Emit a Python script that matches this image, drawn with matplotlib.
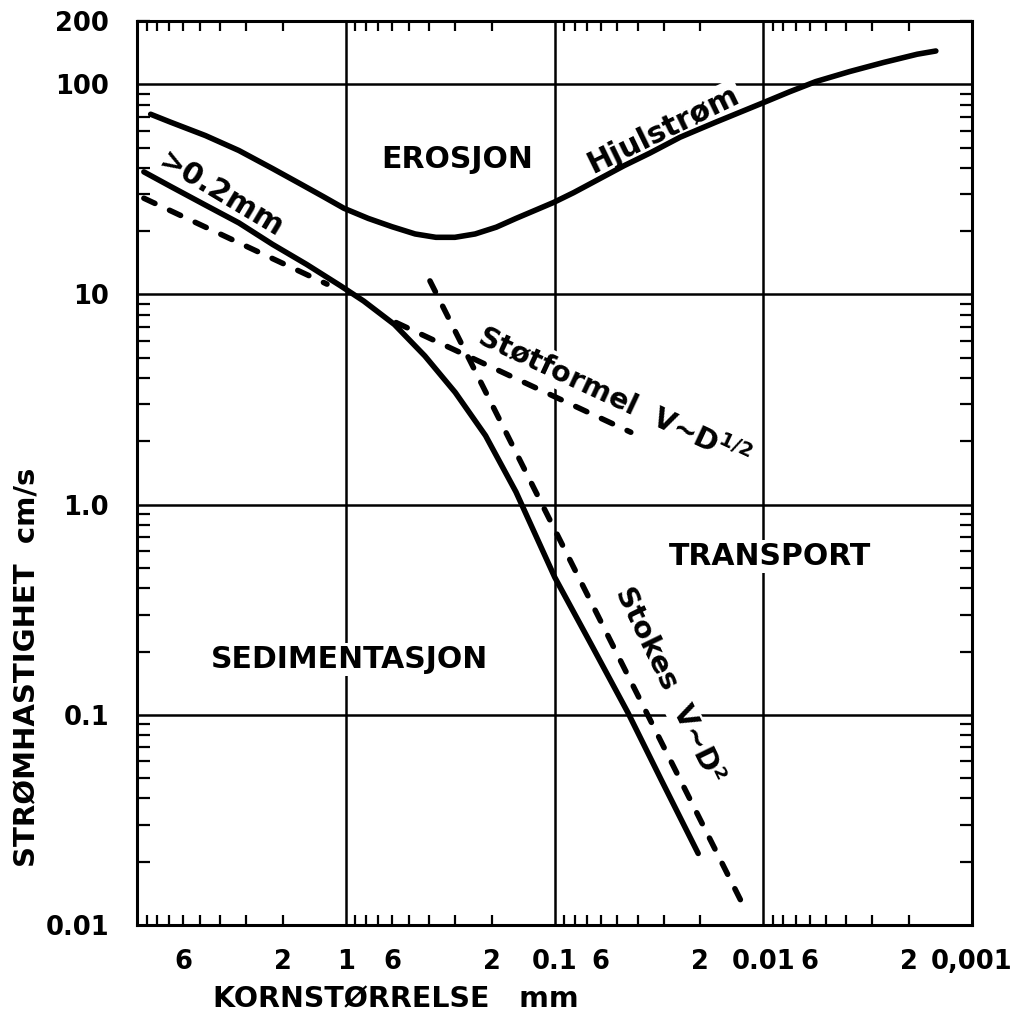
import matplotlib
matplotlib.use("Agg")
import matplotlib.pyplot as plt
from matplotlib.ticker import LogLocator, NullFormatter

plt.rcParams['font.family'] = ['DejaVu Sans']
plt.rcParams['font.weight'] = 'bold'
plt.rcParams['mathtext.default'] = 'bf'

# ---------------- data ----------------
# Hjulstrom erosion curve: grain size (mm) / velocity (cm/s)
hjul_d = [8.6, 6.9, 4.7, 3.25, 2.24, 1.66, 1.28, 1.02, 0.78, 0.60, 0.465, 0.37,
          0.30, 0.24, 0.19, 0.153, 0.122, 0.101, 0.081, 0.0625, 0.0464, 0.035,
          0.025, 0.0169, 0.0100, 0.0075, 0.0056, 0.00385, 0.00265,
          0.00183, 0.00149]
hjul_v = [72, 66, 57, 48.4, 39.7, 33.7, 29.2, 25.7, 23.0, 21.0, 19.4, 18.7,
          18.7, 19.4, 20.9, 23.0, 25.3, 27.4, 30.5, 35.0, 41.0, 47.0,
          56, 66, 81.7, 92, 103, 115, 127, 139, 144]

# sedimentation curve (>0.2 mm)
sed_d = [9.27, 6.88, 4.73, 3.25, 2.24, 1.54, 1.06, 0.82, 0.585, 0.418, 0.299,
         0.214, 0.153, 0.0997, 0.0665, 0.0444, 0.0307, 0.0205]
sed_v = [38.3, 32.6, 26.7, 21.9, 17.3, 13.9, 11.0, 9.3, 7.2, 5.1, 3.42,
         2.13, 1.15, 0.451, 0.215, 0.102, 0.0487, 0.0219]

# impact formula V ~ D^1/2 (two dashed pieces)
stot_coarse_d = [9.27, 1.23]
stot_coarse_v = [28.7, 11.2]
stot_fine_d = [0.574, 0.0431]
stot_fine_v = [7.35, 2.21]

# Stokes V ~ D^2
stokes_d = [0.395, 0.0119]
stokes_v = [11.6, 0.0113]

x_tick_pos = [6, 2, 1, 0.6, 0.2, 0.1, 0.06, 0.02, 0.01, 0.006, 0.002, 0.001]
x_tick_labels = ['6', '2', '1', '6', '2', '0.1', '6', '2', '0.01', '6', '2', '0,001']
y_tick_pos = [0.01, 0.1, 1, 10, 100, 200]
y_tick_labels = ['0.01', '0.1', '1.0', '10', '100', '200']
grid_x = [1, 0.1, 0.01]
grid_y = [100, 10, 1, 0.1]

# ---------------- figure ----------------
fig = plt.figure(figsize=(10.14, 10.15), dpi=100)
ax = fig.add_axes([137 / 1014, 90 / 1015, 835 / 1014, 904 / 1015])
ax.set_xscale('log')
ax.set_yscale('log')
ax.set_xlim(10, 0.001)
ax.set_ylim(0.01, 200)

for s in ax.spines.values():
    s.set_linewidth(2.2)

for gx in grid_x:
    ax.axvline(gx, color='black', lw=1.8, zorder=1)
for gy in grid_y:
    ax.axhline(gy, color='black', lw=1.8, zorder=1)

# ticks
ax.xaxis.remove_overlapping_locs = False
ax.yaxis.remove_overlapping_locs = False
ax.set_xticks(x_tick_pos)
ax.set_xticklabels(x_tick_labels)
ax.set_yticks(y_tick_pos)
ax.set_yticklabels(y_tick_labels)
ax.xaxis.set_minor_locator(LogLocator(base=10, subs=range(2, 10), numticks=20))
ax.yaxis.set_minor_locator(LogLocator(base=10, subs=range(2, 10), numticks=20))
ax.xaxis.set_minor_formatter(NullFormatter())
ax.yaxis.set_minor_formatter(NullFormatter())
ax.tick_params(axis='x', which='major', length=0, pad=17, labelsize=18.5)
ax.tick_params(axis='y', which='major', length=0, pad=20, labelsize=18.5)
ax.tick_params(axis='x', which='minor', direction='in', length=7, width=1.6,
               top=True, bottom=True)
ax.tick_params(axis='y', which='minor', direction='in', length=9, width=1.6,
               left=True, right=True)
for lab in ax.get_xticklabels() + ax.get_yticklabels():
    lab.set_fontweight('bold')

# curves
lw = 4.0
ax.plot(hjul_d, hjul_v, color='black', lw=lw, solid_capstyle='round',
        solid_joinstyle='round', zorder=3)
ax.plot(sed_d, sed_v, color='black', lw=lw, solid_capstyle='round',
        solid_joinstyle='round', zorder=3)
dash = (2.2, 2.9)
for dd, vv in [(stot_coarse_d, stot_coarse_v), (stot_fine_d, stot_fine_v),
               (stokes_d, stokes_v)]:
    ax.plot(dd, vv, color='black', lw=lw, dashes=dash, dash_capstyle='round',
            zorder=3)

# texts
box = dict(facecolor='white', edgecolor='none', pad=1.5)
tk = dict(fontweight='bold', ha='center', va='center',
          zorder=2, bbox=box, rotation_mode='anchor')
ax.text(0.294, 43.8, 'EROSJON', fontsize=21.5, **tk)
ax.text(0.00926, 0.567, 'TRANSPORT', fontsize=21.5, **tk)
ax.text(0.957, 0.184, 'SEDIMENTASJON', fontsize=21.5, **tk)
ax.text(0.030, 60.7, 'Hjulstrøm', rotation=26, fontsize=21.5, **tk)
ax.text(3.94, 29.7, '>0.2mm', rotation=-31, fontsize=21.5, **tk)
ax.text(0.052, 3.25, 'Støtformel  V~D$^{1/2}$', rotation=-25, fontsize=20.5, **tk)
ax.text(0.0282, 0.138, 'Stokes  V~D²', rotation=-64, fontsize=21, **tk)

fig.text(28 / 1014, 1 - 667 / 1015, 'STRØMHASTIGHET  cm/s', rotation=90,
         fontsize=21, fontweight='bold', ha='center', va='center')
fig.text(396 / 1014, 1 - 999 / 1015, 'KORNSTØRRELSE   mm',
         fontsize=20.5, fontweight='bold', ha='center', va='center')

fig.savefig('out.png', dpi=100, facecolor='white')
